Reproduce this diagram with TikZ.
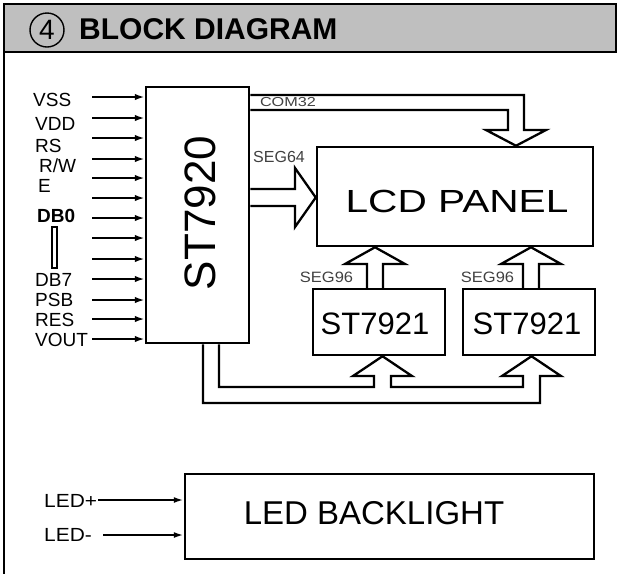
\documentclass[tikz,border=0pt]{standalone}
\usepackage{fontspec}
\setmainfont{Liberation Sans}
\usetikzlibrary{arrows.meta}
\begin{document}
\begin{tikzpicture}[x=1pt,y=-1pt,
  box/.style={draw, line width=2.5pt, inner sep=0pt},
  bus/.style={draw, line width=2.3pt, line join=miter},
  inarrow/.style={line width=2.8pt, -{Latex[length=10pt,width=6.5pt]}},
  lbl/.style={anchor=west, inner sep=0pt, font=\fontsize{19}{19}\selectfont},
  small/.style={inner sep=0pt, text=black!75},
  big/.style={inner sep=0pt, font=\fontsize{31}{31}\selectfont}]
\useasboundingbox (0,0) rectangle (617,574);
% frame and header
\draw[line width=2.4pt] (4,52) -- (4,574);
\draw[line width=2.6pt, fill=black!25] (4,4) rectangle (616,52);
\node[circle, draw, line width=1.4pt, minimum size=34pt, inner sep=0pt,
      font=\fontsize{28}{28}\selectfont] (num) at (47,30) {4};
\node[anchor=west, inner sep=0pt, font=\fontsize{30}{30}\selectfont\bfseries] (title) at (79,29) {BLOCK DIAGRAM};
% boxes
\node[box, minimum width=103pt, minimum height=256pt] (st) at (197.5,215) {};
\node[inner sep=0pt, font=\fontsize{44}{44}\selectfont] (sttxt) at (200,213) {\rotatebox{90}{ST7920}};
\node[box, minimum width=276pt, minimum height=99pt] (lcd) at (455,196.5) {};
\node[inner sep=0pt, font=\fontsize{32}{32}\selectfont, xscale=1.27] (lcdtxt) at (457,201.5) {LCD PANEL};
\node[box, minimum width=132pt, minimum height=66pt] (sta) at (379,322) {};
\node[big] (statxt) at (375,323.5) {ST7921};
\node[box, minimum width=132pt, minimum height=66pt] (stb) at (529,322) {};
\node[big] (stbtxt) at (527,323.5) {ST7921};
\node[box, minimum width=409pt, minimum height=85pt] (led) at (389.5,516.5) {};
\node[inner sep=0pt, font=\fontsize{33}{33}\selectfont] (ledtxt) at (374,513) {LED BACKLIGHT};
% input labels
\node[lbl] (vss) at (33,100) {VSS};
\node[lbl] (vdd) at (35,124) {VDD};
\node[lbl] (rs) at (35,146) {RS};
\node[lbl] (rw) at (39,166) {R/W};
\node[lbl] (e) at (38,186) {E};
\node[lbl, font=\fontsize{19}{19}\selectfont\bfseries] (db0) at (37,216) {DB0};
\node[lbl] (db7) at (35,280) {DB7};
\node[lbl] (psb) at (35,300) {PSB};
\node[lbl] (res) at (35,320) {RES};
\node[lbl] (vout) at (35,340) {VOUT};
\draw[line width=1.8pt] (52,227) rectangle (57,268);
% input arrows
\foreach \yy [count=\i] in {97,118,138,159,178,198,218,238,259,279,300,319,339}{
  \coordinate (in\i) at (92,\yy);
  \draw[inarrow] (in\i) -- (st.west |- in\i);
}
% COM32 bus
\draw[bus] (st.east |- 0,95) -- (524,95) -- (524,130) -- (546,130) -- (516,0 |- lcd.north)
  -- (486,130) -- (508,130) -- (508,110) -- (st.east |- 0,110);
\node[small, font=\fontsize{13}{13}\selectfont, xscale=1.25] (com) at (288,102) {COM32};
% SEG64 bus
\draw[bus] (st.east |- 0,189) -- (295,189) -- (295,168) -- (lcd.west |- 0,197.5)
  -- (295,227) -- (295,206) -- (st.east |- 0,206);
\node[small, font=\fontsize{16}{16}\selectfont] (seg64) at (279,157) {SEG64};
% SEG96 buses
\draw[bus] (367,0 |- sta.north) -- (367,264) -- (345,264) -- (375,0 |- lcd.south)
  -- (405,264) -- (383,264) -- (383,0 |- sta.north);
\draw[bus] (523,0 |- stb.north) -- (523,264) -- (501,264) -- (531,0 |- lcd.south)
  -- (561,264) -- (539,264) -- (539,0 |- stb.north);
\node[small, font=\fontsize{15}{15}\selectfont, xscale=1.1] (seg96a) at (326.5,277) {SEG96};
\node[small, font=\fontsize{15}{15}\selectfont, xscale=1.1] (seg96b) at (487.5,277) {SEG96};
% bottom bus
\draw[bus] (219,0 |- st.south) -- (219,387) -- (374,387) -- (374,376) -- (353,376)
  -- (382.5,0 |- sta.south) -- (412,376) -- (391,376) -- (391,387) -- (523,387)
  -- (523,376) -- (502,376) -- (531.5,0 |- stb.south) -- (561,376) -- (540,376)
  -- (540,403) -- (203,403) -- (203,0 |- st.south);
% LED inputs
\node[lbl, xscale=1.1] (ledp) at (44,501) {LED+};
\node[lbl, xscale=1.1] (ledm) at (44,535) {LED-};
\coordinate (lp) at (98,500);
\coordinate (lm) at (103,535);
\draw[line width=2.4pt, -{Latex[length=10pt,width=6pt]}] (lp) -- (led.west |- lp);
\draw[line width=2.4pt, -{Latex[length=10pt,width=6pt]}] (lm) -- (led.west |- lm);
\end{tikzpicture}
\end{document}
